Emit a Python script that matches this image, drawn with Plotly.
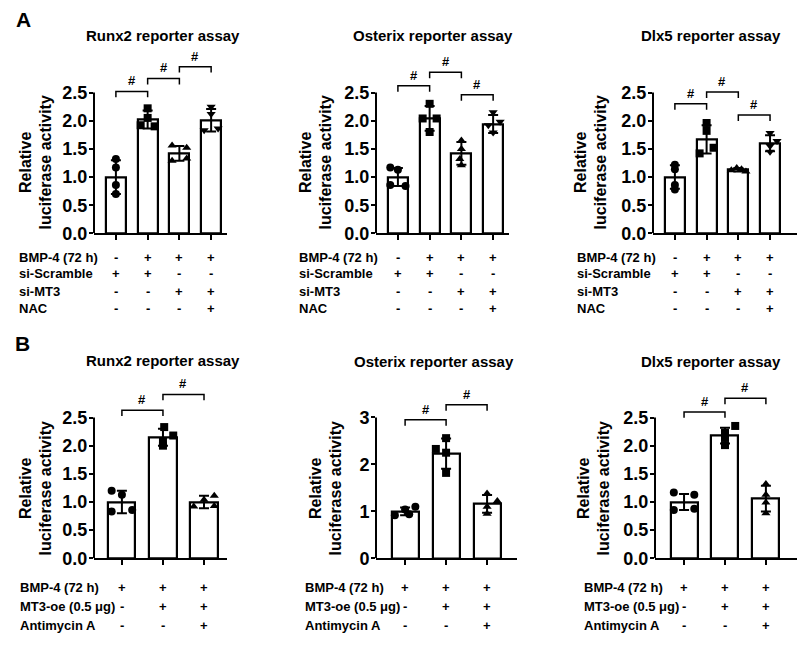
import plotly.graph_objects as go

W, H = 800, 653
FONT = "Liberation Sans, Arial, Helvetica, sans-serif"

# ---------------- data ----------------
assay_titles = ["Runx2 reporter assay", "Osterix reporter assay", "Dlx5 reporter assay"]

# Panel A (4 groups)
A_rows = ["BMP-4 (72 h)", "si-Scramble", "si-MT3", "NAC"]
A_signs = [["-", "+", "+", "+"],
           ["+", "+", "-", "-"],
           ["-", "-", "+", "+"],
           ["-", "-", "-", "+"]]
A_symbols = ["circle", "square", "triangle-up", "triangle-down"]
A_tickvals = [0, 0.5, 1.0, 1.5, 2.0, 2.5]
A_ticktext = ["0.0", "0.5", "1.0", "1.5", "2.0", "2.5"]

A_runx2_mean = [1.00, 2.02, 1.42, 2.01]
A_runx2_sd = [0.30, 0.16, 0.13, 0.20]
A_runx2_pts = [[1.32, 1.17, 0.86, 0.70], [2.22, 2.05, 1.92, 1.90],
               [1.56, 1.52, 1.29, 1.33], [2.25, 2.12, 1.83, 1.86]]
A_runx2_sig = [(0, 1, 2.52), (1, 2, 2.75), (2, 3, 2.96)]

A_osx_mean = [1.00, 2.04, 1.42, 1.94]
A_osx_sd = [0.16, 0.22, 0.20, 0.16]
A_osx_pts = [[1.17, 1.13, 0.86, 0.84], [2.30, 2.04, 2.04, 1.80],
             [1.65, 1.50, 1.32, 1.21], [2.15, 1.98, 1.92, 1.79]]
A_osx_sig = [(0, 1, 2.62), (1, 2, 2.86), (2, 3, 2.46)]

A_dlx_mean = [1.00, 1.67, 1.13, 1.60]
A_dlx_sd = [0.21, 0.25, 0.03, 0.14]
A_dlx_pts = [[1.22, 1.14, 0.86, 0.78], [1.96, 1.82, 1.52, 1.42],
             [1.12, 1.16, 1.14, 1.10], [1.78, 1.64, 1.55, 1.45]]
A_dlx_sig = [(0, 1, 2.30), (1, 2, 2.51), (2, 3, 2.10)]

# Panel B (3 groups)
B_rows = ["BMP-4 (72 h)", "MT3-oe (0.5 \u03bcg)", "Antimycin A"]
B_signs = [["+", "+", "+"],
           ["-", "+", "+"],
           ["-", "-", "+"]]
B_symbols = ["circle", "square", "triangle-up"]
B_tickvals_25 = [0, 0.5, 1.0, 1.5, 2.0, 2.5]
B_ticktext_25 = ["0.0", "0.5", "1.0", "1.5", "2.0", "2.5"]
B_tickvals_3 = [0, 1, 2, 3]
B_ticktext_3 = ["0", "1", "2", "3"]

B_runx2_mean = [1.00, 2.15, 1.00]
B_runx2_sd = [0.20, 0.15, 0.11]
B_runx2_pts = [[1.20, 1.13, 0.83, 0.86], [2.33, 2.18, 2.08, 2.00], [1.11, 1.04, 0.92, 0.93]]
B_runx2_sig = [(0, 1, 2.63), (1, 2, 2.91)]

B_osx_mean = [1.00, 2.23, 1.16]
B_osx_sd = [0.08, 0.32, 0.19]
B_osx_pts = [[0.92, 1.04, 1.10, 0.94], [2.56, 2.33, 2.25, 1.82], [1.38, 1.22, 1.10, 0.95]]
B_osx_sig = [(0, 1, 2.95), (1, 2, 3.27)]

B_dlx_mean = [1.00, 2.18, 1.06]
B_dlx_sd = [0.14, 0.14, 0.23]
B_dlx_pts = [[1.17, 1.13, 0.86, 0.88], [2.35, 2.23, 2.14, 2.01], [1.32, 1.13, 0.99, 0.80]]
B_dlx_sig = [(0, 1, 2.60), (1, 2, 2.84)]

# horizontal scatter of replicate points (fraction of category spacing)
A_runx2_jit = [[0, 0, 0, 0], [0, 0, -0.22, 0.22], [-0.23, 0.23, -0.23, 0.23], [0, 0, -0.22, 0.22]]
A_osx_jit = [[-0.24, 0, -0.24, 0.24], [0, -0.22, 0.22, 0], [0, 0, -0.05, 0], [0, 0.22, -0.15, 0]]
A_dlx_jit = [[0, 0, 0, 0], [0, 0, 0.22, -0.22], [-0.22, -0.05, 0.1, 0.24], [0, 0.22, 0, 0]]
B_runx2_jit = [[-0.25, 0, -0.25, 0.25], [0.03, 0.25, 0, 0], [0.25, 0, -0.25, 0.25]]
B_osx_jit = [[-0.25, 0, 0.25, 0.1], [0, -0.25, 0, 0], [0, 0.25, 0, 0]]
B_dlx_jit = [[-0.25, 0.25, -0.25, 0.25], [0.25, 0, 0, 0], [0, 0, 0, 0]]

# ---------------- layout geometry (pixels) ----------------
panels = [
    dict(mean=A_runx2_mean, sd=A_runx2_sd, pts=A_runx2_pts, jit=A_runx2_jit, sig=A_runx2_sig,
         sym=A_symbols, tv=A_tickvals, tt=A_ticktext, rows=A_rows, signs=A_signs, title=assay_titles[0],
         xpx=(94, 227), xr=(-0.69, 3.5), y0px=237, ppu=57.2, ytop=3.3, bw=0.63,
         tpos=(163, 36), ypos=(36, 165), rowy=[261, 278, 296, 313], labx=17),
    dict(mean=A_osx_mean, sd=A_osx_sd, pts=A_osx_pts, jit=A_osx_jit, sig=A_osx_sig,
         sym=A_symbols, tv=A_tickvals, tt=A_ticktext, rows=A_rows, signs=A_signs, title=assay_titles[1],
         xpx=(376, 509), xr=(-0.69, 3.5), y0px=237, ppu=57.2, ytop=3.3, bw=0.63,
         tpos=(433, 36), ypos=(316, 165), rowy=[261, 278, 296, 313], labx=297),
    dict(mean=A_dlx_mean, sd=A_dlx_sd, pts=A_dlx_pts, jit=A_dlx_jit, sig=A_dlx_sig,
         sym=A_symbols, tv=A_tickvals, tt=A_ticktext, rows=A_rows, signs=A_signs, title=assay_titles[2],
         xpx=(653, 797), xr=(-0.69, 3.85), y0px=237, ppu=57.2, ytop=3.3, bw=0.63,
         tpos=(711, 36), ypos=(591, 165), rowy=[261, 278, 296, 313], labx=575),
    dict(mean=B_runx2_mean, sd=B_runx2_sd, pts=B_runx2_pts, jit=B_runx2_jit, sig=B_runx2_sig,
         sym=B_symbols, tv=B_tickvals_25, tt=B_ticktext_25, rows=B_rows, signs=B_signs, title=assay_titles[0],
         xpx=(94, 227), xr=(-0.68, 2.56), y0px=567, ppu=57.2, ytop=3.3, bw=0.66,
         tpos=(163, 366), ypos=(36, 496), rowy=[597, 616, 635], labx=18),
    dict(mean=B_osx_mean, sd=B_osx_sd, pts=B_osx_pts, jit=B_osx_jit, sig=B_osx_sig,
         sym=B_symbols, tv=B_tickvals_3, tt=B_ticktext_3, rows=B_rows, signs=B_signs, title=assay_titles[1],
         xpx=(376, 517), xr=(-0.71, 2.73), y0px=567, ppu=47.67, ytop=3.7, bw=0.66,
         tpos=(434, 367), ypos=(326, 496), rowy=[597, 616, 635], labx=303),
    dict(mean=B_dlx_mean, sd=B_dlx_sd, pts=B_dlx_pts, jit=B_dlx_jit, sig=B_dlx_sig,
         sym=B_symbols, tv=B_tickvals_25, tt=B_ticktext_25, rows=B_rows, signs=B_signs, title=assay_titles[2],
         xpx=(655, 797), xr=(-0.71, 2.76), y0px=567, ppu=57.2, ytop=3.3, bw=0.66,
         tpos=(711, 367), ypos=(594, 496), rowy=[597, 616, 635], labx=582),
]


def px(x):
    return x / W


def py(y):
    return 1 - y / H


fig = go.Figure()
annotations = []
shapes = []
layout_axes = {}

for i, p in enumerate(panels, start=1):
    xa = "x" if i == 1 else f"x{i}"
    ya = "y" if i == 1 else f"y{i}"
    xkey = "xaxis" if i == 1 else f"xaxis{i}"
    ykey = "yaxis" if i == 1 else f"yaxis{i}"
    n = len(p["mean"])
    cats = list(range(n))

    fig.add_trace(go.Bar(
        x=cats, y=p["mean"], width=p["bw"], xaxis=xa, yaxis=ya, showlegend=False,
        marker=dict(color="white", line=dict(color="black", width=2.2)),
        error_y=dict(type="data", array=p["sd"], visible=True, color="black", thickness=2, width=5),
        hoverinfo="skip"))
    for g in range(n):
        fig.add_trace(go.Scatter(
            x=[g + j for j in p["jit"][g]], y=p["pts"][g], mode="markers", xaxis=xa, yaxis=ya,
            showlegend=False, cliponaxis=False,
            marker=dict(symbol=p["sym"][g], size=8, color="black", line=dict(width=0))))

    top_px = p["y0px"] - p["ytop"] * p["ppu"]
    layout_axes[xkey] = dict(
        domain=[px(p["xpx"][0]), px(p["xpx"][1])], range=list(p["xr"]), anchor=ya,
        showline=True, linecolor="black", linewidth=2, ticks="outside", ticklen=5, tickwidth=2,
        tickcolor="black", tickvals=cats, showticklabels=False, showgrid=False, zeroline=False)
    layout_axes[ykey] = dict(
        domain=[py(p["y0px"]), py(top_px)], range=[0, p["ytop"]], anchor=xa,
        showline=False, ticks="outside", ticklen=4, tickwidth=2, tickcolor="black",
        ticklabelstandoff=-2,
        tickvals=p["tv"], ticktext=p["tt"], showgrid=False, zeroline=False,
        tickfont=dict(family=FONT, size=18, color="black", weight="bold"))

    # y axis line (only up to the top tick)
    shapes.append(dict(type="line", xref=f"{xa} domain", yref=ya, x0=0, x1=0, y0=0, y1=p["tv"][-1],
                       line=dict(color="black", width=2)))

    # significance brackets
    leg = 6 / p["ppu"]
    for a, b, lev in p["sig"]:
        shapes.append(dict(type="path", xref=xa, yref=ya,
                           path=f"M {a},{lev - leg} L {a},{lev} L {b},{lev} L {b},{lev - leg}",
                           line=dict(color="black", width=1.5)))
        annotations.append(dict(x=(a + b) / 2, y=lev, xref=xa, yref=ya, text="#", showarrow=False,
                                yanchor="bottom", yshift=1,
                                font=dict(family=FONT, size=13, color="black", weight="bold")))

    # title
    annotations.append(dict(x=px(p["tpos"][0]), y=py(p["tpos"][1]), xref="paper", yref="paper",
                            text=p["title"], showarrow=False, xanchor="center", yanchor="middle",
                            font=dict(family=FONT, size=15, color="black", weight="bold")))
    # y title
    annotations.append(dict(x=px(p["ypos"][0]), y=py(p["ypos"][1]), xref="paper", yref="paper",
                            text="Relative<br>luciferase activity", showarrow=False, textangle=-90,
                            xanchor="center", yanchor="middle",
                            font=dict(family=FONT, size=16, color="black", weight="bold")))
    # treatment table
    for r, (lab, ry) in enumerate(zip(p["rows"], p["rowy"])):
        annotations.append(dict(x=px(p["labx"]), y=py(ry), xref="paper", yref="paper", text=lab,
                                showarrow=False, xanchor="left", yanchor="middle",
                                font=dict(family=FONT, size=13, color="black", weight="bold")))
        for g in range(n):
            annotations.append(dict(x=g, y=py(ry), xref=xa, yref="paper", text=p["signs"][r][g],
                                    showarrow=False, xanchor="center", yanchor="middle",
                                    font=dict(family=FONT, size=13, color="black", weight="bold")))

# panel letters
annotations.append(dict(x=px(23), y=py(20), xref="paper", yref="paper", text="A", showarrow=False,
                        xanchor="center", yanchor="middle",
                        font=dict(family=FONT, size=21, color="black", weight="bold")))
annotations.append(dict(x=px(22), y=py(349), xref="paper", yref="paper", text="B", showarrow=False,
                        xanchor="center", yanchor="middle",
                        font=dict(family=FONT, size=21, color="black", weight="bold")))

fig.update_layout(
    width=W, height=H, margin=dict(l=0, r=0, t=0, b=0),
    paper_bgcolor="white", plot_bgcolor="white", bargap=0,
    font=dict(family=FONT, color="black"),
    annotations=annotations, shapes=shapes, **layout_axes)

fig.write_html("out.html", config={"displayModeBar": False},
               post_script="document.body.style.margin='0';document.body.style.overflow='hidden';")
